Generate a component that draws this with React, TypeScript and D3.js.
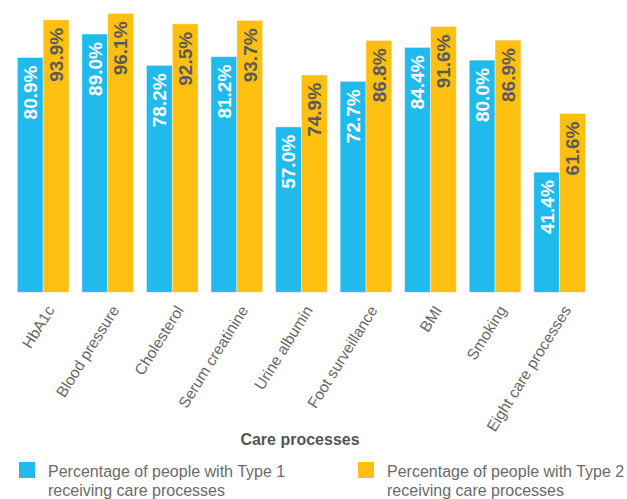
import React from "react";
import * as d3 from "d3";

const categories = [
  "HbA1c",
  "Blood pressure",
  "Cholesterol",
  "Serum creatinine",
  "Urine albumin",
  "Foot surveillance",
  "BMI",
  "Smoking",
  "Eight care processes",
];
const type1Values = [80.9, 89.0, 78.2, 81.2, 57.0, 72.7, 84.4, 80.0, 41.4];
const type2Values = [93.9, 96.1, 92.5, 93.7, 74.9, 86.8, 91.6, 86.9, 61.6];
const seriesKeys = ["type1", "type2"];
const seriesLabels = [
  ["Percentage of people with Type 1", "receiving care processes"],
  ["Percentage of people with Type 2", "receiving care processes"],
];
const xAxisTitle = "Care processes";

const W = 627;
const H = 499;
const BLUE = "#20BBEC";
const ORANGE = "#FDBF10";
const FONT = "'Liberation Sans', Arial, Helvetica, sans-serif";

export default function App() {
  const x0 = d3
    .scaleBand<string>()
    .domain(categories)
    .range([10.9, 591.9])
    .paddingInner(0.2)
    .paddingOuter(0.1);
  const x1 = d3.scaleBand<string>().domain(seriesKeys).range([0, x0.bandwidth()]);
  const y = d3.scaleLinear().domain([0, 100]).range([292.3, 2.1]);
  const colors = [BLUE, ORANGE];
  const labelColors = ["#ffffff", "#5a5a5a"];
  const data = categories.map((c, i) => ({
    cat: c,
    vals: [type1Values[i], type2Values[i]],
  }));

  return (
    <svg
      width={W}
      height={H}
      style={{ position: "absolute", left: 0, top: 0, background: "#fff" }}
      fontFamily={FONT}
    >
      {data.map((d) => (
        <g key={d.cat} transform={`translate(${x0(d.cat)},0)`}>
          {d.vals.map((v, j) => {
            const bx = x1(seriesKeys[j])!;
            const bw = x1.bandwidth();
            return (
              <g key={j}>
                <rect
                  x={bx}
                  y={y(v)}
                  width={bw}
                  height={y(0) - y(v)}
                  fill={colors[j]}
                  stroke="#ffffff"
                  strokeOpacity={0.5}
                  strokeWidth={0.8}
                />
                <text
                  transform={`translate(${bx + bw / 2},${y(v) + 8}) rotate(-90)`}
                  textAnchor="end"
                  dy="0.36em"
                  fontSize={19}
                  fontWeight="bold"
                  fill={labelColors[j]}
                >
                  {v.toFixed(1)}%
                </text>
              </g>
            );
          })}
        </g>
      ))}
      {categories.map((c) => (
        <text
          key={c}
          transform={`translate(${x0(c)! + x0.bandwidth() / 2 + 12},310) rotate(-58)`}
          textAnchor="end"
          fontSize={15.5}
          fill="#666"
        >
          {c}
        </text>
      ))}
      <text
        x={300}
        y={445}
        textAnchor="middle"
        fontSize={16}
        fontWeight="bold"
        fill="#555"
      >
        {xAxisTitle}
      </text>
      {seriesLabels.map((lines, i) => {
        const lx = i === 0 ? 19 : 358;
        return (
          <g key={i} transform={`translate(${lx},462)`}>
            <rect x={0} y={0} width={16} height={16} fill={colors[i]} />
            <text x={29} y={15} fontSize={16} fill="#6a6a6a">
              {lines.map((t, k) => (
                <tspan key={k} x={29} dy={k === 0 ? 0 : 19}>
                  {t}
                </tspan>
              ))}
            </text>
          </g>
        );
      })}
    </svg>
  );
}
